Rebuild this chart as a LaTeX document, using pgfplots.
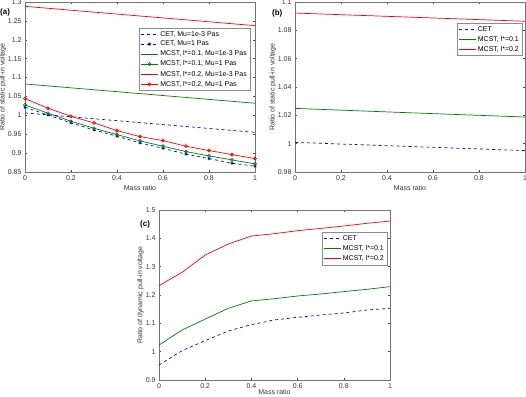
\documentclass[border=0pt]{standalone}
\usepackage{fontspec}
\setmainfont{Liberation Sans}
\usepackage{pgfplots}
\pgfplotsset{compat=1.18}
\definecolor{mblue}{rgb}{0,0,1}
\definecolor{mgreen}{rgb}{0,0.5,0}
\definecolor{mred}{rgb}{1,0,0}
\pgfplotsset{panel/.style={
  anchor=south west, scale only axis, width=230bp, height=170bp,
  xmin=0, xmax=1, xtick={0,0.2,0.4,0.6,0.8,1},
  xticklabels={0,0.2,0.4,0.6,0.8,1},
  tick align=inside, major tick length=2bp,
  axis line style={black!55}, tick style={black!70, line width=0.4pt},
  /pgf/number format/assume math mode=true,
  font=\fontsize{7}{8}\selectfont,
  ticklabel style={font=\fontsize{7}{8}\selectfont, text=black!80},
  label style={font=\fontsize{7}{8}\selectfont, text=black!80},
  xlabel={Mass ratio},
  xlabel style={yshift=2bp},
  ylabel style={yshift=-5bp},
  legend cell align=left,
  legend style={font=\fontsize{7}{8}\selectfont, draw=black!45, inner sep=1pt,
    row sep=-0.5bp, anchor=north east},
  every axis plot/.append style={line width=0.7pt},
}}
\begin{document}
\begin{tikzpicture}
\path[use as bounding box] (0,0) rectangle (526bp,397bp);
% (a)
\begin{axis}[panel, at={(25bp,225bp)},
  ymin=0.85, ymax=1.3, ytick={0.85,0.9,0.95,1,1.05,1.1,1.15,1.2,1.25,1.3},
  yticklabels={0.85,0.9,0.95,1,1.05,1.1,1.15,1.2,1.25,1.3},
  ylabel={Ratio of static pull-in voltage},
  legend style={at={(0.978,0.847)}}]
\addplot[mblue, dashed, no marks] coordinates {(0,1.0063) (1,0.955)};
\addlegendentry{CET, Mu=1e-3 Pas}
\addplot[mblue, dashed, mark=asterisk, mark size=1.5bp, mark options={solid}] coordinates {
(0,1.0213) (0.1,1.001) (0.2,0.980) (0.3,0.9614) (0.4,0.9446) (0.5,0.927) (0.6,0.9129) (0.7,0.897) (0.8,0.8855) (0.9,0.8732) (1,0.8653)};
\addlegendentry{CET, Mu=1 Pas}
\addplot[mgreen, no marks] coordinates {(0,1.083) (1,1.032)};
\addlegendentry{MCST, l*=0.1, Mu=1e-3 Pas}
\addplot[mgreen, mark=o, mark size=1.5bp] coordinates {
(0,1.0275) (0.1,1.0055) (0.2,0.9843) (0.3,0.9658) (0.4,0.949) (0.5,0.9323) (0.6,0.9182) (0.7,0.904) (0.8,0.8926) (0.9,0.882) (1,0.8714)};
\addlegendentry{MCST, l*=0.1, Mu=1 Pas}
\addplot[mred, no marks] coordinates {(0,1.2885) (1,1.2374)};
\addlegendentry{MCST, l*=0.2, Mu=1e-3 Pas}
\addplot[mred, mark=o, mark size=1.5bp] coordinates {
(0,1.0443) (0.1,1.0187) (0.2,0.9975) (0.3,0.980) (0.4,0.9596) (0.5,0.9437) (0.6,0.9332) (0.7,0.9182) (0.8,0.9067) (0.9,0.8961) (1,0.8855)};
\addlegendentry{MCST, l*=0.2, Mu=1 Pas}
\end{axis}
% (b)
\begin{axis}[panel, at={(295bp,225bp)},
  ymin=0.98, ymax=1.1, ytick={0.98,1,1.02,1.04,1.06,1.08,1.1},
  yticklabels={0.98,1,1.02,1.04,1.06,1.08,1.1},
  ylabel={Ratio of static pull-in voltage},
  legend style={at={(0.987,0.876)}}]
\addplot[color=mblue, dashed, no marks] coordinates {(0,1.0009) (0.5,0.998) (1,0.9951)};
\addlegendentry{CET}
\addplot[color=mgreen, no marks] coordinates {(0,1.0249) (0.5,1.0218) (1,1.0188)};
\addlegendentry{MCST, l*=0.1}
\addplot[color=mred, no marks] coordinates {(0,1.0922) (0.5,1.0893) (1,1.0864)};
\addlegendentry{MCST, l*=0.2}
\end{axis}
% (c)
\begin{axis}[panel, at={(159bp,17bp)}, width=231bp,
  ymin=0.9, ymax=1.5, ytick={0.9,1,1.1,1.2,1.3,1.4,1.5},
  yticklabels={0.9,1,1.1,1.2,1.3,1.4,1.5},
  ylabel={Ratio of dynamic pull-in voltage},
  xlabel style={yshift=4bp},
  legend style={at={(0.987,0.87)}}]
\addplot[mblue, dashed, no marks] coordinates {
(0,0.953) (0.1,1.0035) (0.2,1.039) (0.3,1.073) (0.4,1.0953) (0.5,1.112) (0.6,1.1212) (0.7,1.1294) (0.8,1.1365) (0.9,1.147) (1,1.153)};
\addlegendentry{CET}
\addplot[mgreen, no marks] coordinates {
(0,1.0235) (0.1,1.0765) (0.2,1.115) (0.3,1.153) (0.4,1.179) (0.5,1.187) (0.6,1.1965) (0.7,1.2035) (0.8,1.212) (0.9,1.22) (1,1.2294)};
\addlegendentry{MCST, l*=0.1}
\addplot[mred, no marks] coordinates {
(0,1.233) (0.1,1.28) (0.2,1.341) (0.3,1.38) (0.4,1.408) (0.5,1.4165) (0.6,1.427) (0.7,1.435) (0.8,1.4435) (0.9,1.453) (1,1.461)};
\addlegendentry{MCST, l*=0.2}
\end{axis}
\node[anchor=west, inner sep=0pt, font=\fontsize{8}{9}\selectfont\bfseries] at (0bp,385bp) {(a)};
\node[anchor=west, inner sep=0pt, font=\fontsize{8}{9}\selectfont\bfseries] at (272bp,384bp) {(b)};
\node[anchor=west, inner sep=0pt, font=\fontsize{8}{9}\selectfont\bfseries] at (140bp,173bp) {(c)};
\end{tikzpicture}
\end{document}
